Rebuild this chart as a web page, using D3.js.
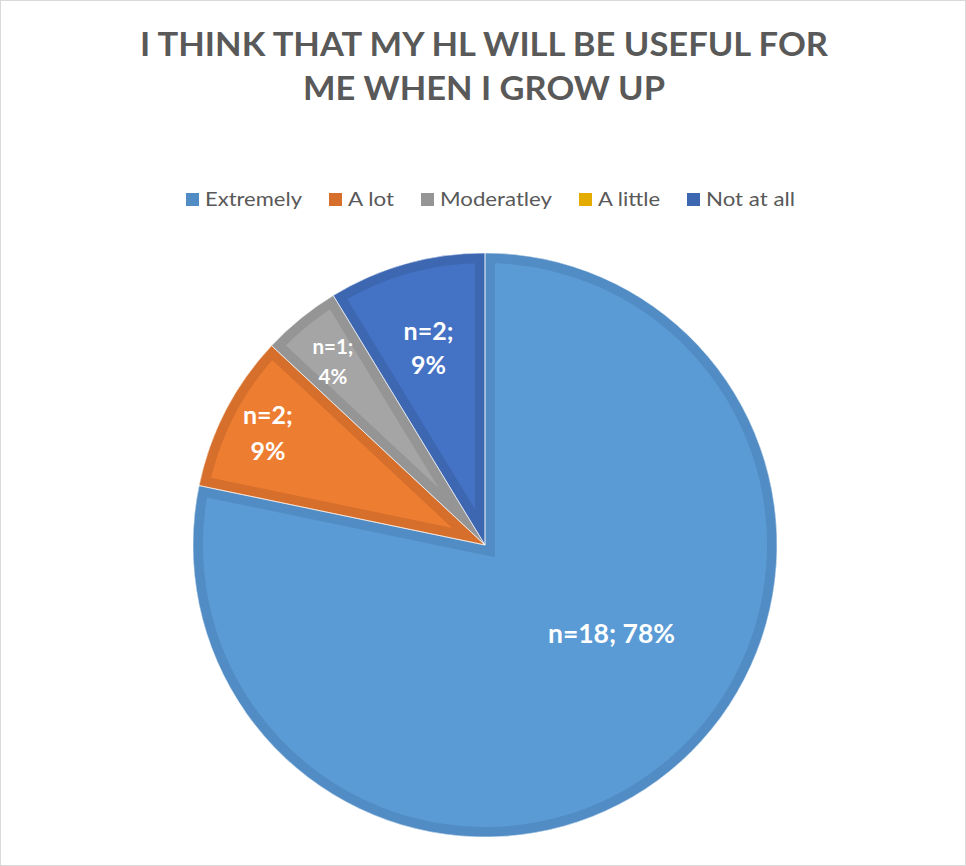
<!DOCTYPE html>
<html>
<head>
<meta charset="utf-8">
<script src="https://cdn.jsdelivr.net/npm/d3@7"></script>
<style>
  html, body { margin: 0; padding: 0; background: #fff; }
  svg { display: block; }
</style>
</head>
<body>
<svg id="chart" width="966" height="866"></svg>
<script>
// Survey answers
const categories = ["Extremely", "A lot", "Moderatley", "A little", "Not at all"];
const counts = [18, 2, 1, 0, 2];
const titleLines = ["I THINK THAT MY HL WILL BE USEFUL FOR", "ME WHEN I GROW UP"];

// Slice fills and their darker inner borders
const fills = ["#5B9BD5", "#ED7D31", "#A5A5A5", "#FFC000", "#4472C4"];
const borders = ["#518CC4", "#D56F2B", "#959595", "#E5AC00", "#3D67B1"];

const W = 966, H = 866;
const cx = 485, cy = 545, R = 292, borderW = 10;
const fontFamily = "Lato, 'Open Sans', 'DejaVu Sans', sans-serif";

const svg = d3.select("#chart");
const defs = svg.append("defs");

// chart frame
svg.append("rect")
  .attr("x", 0.5).attr("y", 0.5)
  .attr("width", W - 1).attr("height", H - 1)
  .attr("fill", "#fff").attr("stroke", "#d9d9d9").attr("stroke-width", 1);

// title
const titleWidths = [688, 362];
svg.append("g").selectAll("text")
  .data(titleLines)
  .join("text")
  .attr("x", 484)
  .attr("y", (d, i) => 56 + i * 44)
  .attr("text-anchor", "middle")
  .attr("font-family", fontFamily)
  .attr("font-weight", 700)
  .attr("font-size", 32)
  .attr("fill", "#595959")
  .attr("textLength", (d, i) => titleWidths[i])
  .attr("lengthAdjust", "spacingAndGlyphs")
  .text(d => d);

// legend
const legend = svg.append("g");
const legendSize = 20, swatch = 13, swatchGap = 6, itemGap = 27;
const legendTextWidths = [97, 46, 112, 62, 89];
const items = legend.selectAll("g")
  .data(categories)
  .join("g");
items.append("rect")
  .attr("width", swatch).attr("height", swatch)
  .attr("y", 193)
  .attr("fill", (d, i) => borders[i]);
items.append("text")
  .attr("y", 206)
  .attr("font-family", fontFamily)
  .attr("font-size", legendSize)
  .attr("fill", "#595959")
  .attr("textLength", (d, i) => legendTextWidths[i])
  .attr("lengthAdjust", "spacingAndGlyphs")
  .text(d => d);
// lay legend items out side by side, centred
const total = d3.sum(legendTextWidths, w => swatch + swatchGap + w) + itemGap * (categories.length - 1);
let x0 = 490.5 - total / 2;
items.each(function (d, i) {
  const g = d3.select(this);
  g.select("rect").attr("x", x0);
  g.select("text").attr("x", x0 + swatch + swatchGap);
  x0 += swatch + swatchGap + legendTextWidths[i] + itemGap;
});

// pie
const data = categories.map((c, i) => ({ category: c, value: counts[i], i }));
const sum = d3.sum(counts);
const pie = d3.pie().sort(null).value(d => d.value).startAngle(0).endAngle(2 * Math.PI);
const arcs = pie(data).filter(a => a.value > 0);
const arc = d3.arc().innerRadius(0).outerRadius(R);

const pg = svg.append("g").attr("transform", `translate(${cx},${cy})`);

pg.selectAll("g.slice")
  .data(arcs)
  .join("g").attr("class", "slice")
  .each(function (a) {
    const id = "clip" + a.data.i;
    defs.append("clipPath").attr("id", id).append("path").attr("d", arc(a));
    const g = d3.select(this);
    g.append("path").attr("d", arc(a)).attr("fill", fills[a.data.i]);
    // inner border: double-width stroke clipped to the slice
    g.append("path").attr("d", arc(a))
      .attr("fill", "none")
      .attr("stroke", borders[a.data.i])
      .attr("stroke-width", borderW * 2)
      .attr("clip-path", `url(#${id})`);
  });

// thin light separators between slices
pg.selectAll("path.sep")
  .data(arcs)
  .join("path").attr("class", "sep")
  .attr("d", arc)
  .attr("fill", "none")
  .attr("stroke", "#ffffff")
  .attr("stroke-opacity", 0.55)
  .attr("stroke-width", 1);

// data labels
const labelStyle = {
  "Extremely":  { r: 0.53, shift: -15.7, size: 26.5, oneLine: true },
  "A lot":      { r: 0.835, shift: -0.3, size: 25, gap: 36 },
  "Moderatley": { r: 0.815, shift: -0.6, size: 20.5, gap: 30 },
  "Not at all": { r: 0.70, shift: -0.4, size: 25, gap: 34 }
};
arcs.forEach(a => {
  const st = labelStyle[a.data.category];
  const ang = (a.startAngle + a.endAngle) / 2 + st.shift * Math.PI / 180;
  const rr = st.r * R;
  const lx = Math.sin(ang) * rr, ly = -Math.cos(ang) * rr;
  const pct = Math.round(a.value / sum * 100);
  const lines = st.oneLine ? [`n=${a.value}; ${pct}%`] : [`n=${a.value};`, `${pct}%`];
  const capH = st.size * 0.68;
  const gap = st.gap || 0;
  const blockH = capH + gap * (lines.length - 1);
  pg.append("g").selectAll("text")
    .data(lines)
    .join("text")
    .attr("x", lx)
    .attr("y", (d, k) => ly - blockH / 2 + capH + k * gap)
    .attr("text-anchor", "middle")
    .attr("font-family", fontFamily)
    .attr("font-weight", 700)
    .attr("font-size", st.size)
    .attr("fill", "#ffffff")
    .text(d => d);
});
</script>
</body>
</html>
